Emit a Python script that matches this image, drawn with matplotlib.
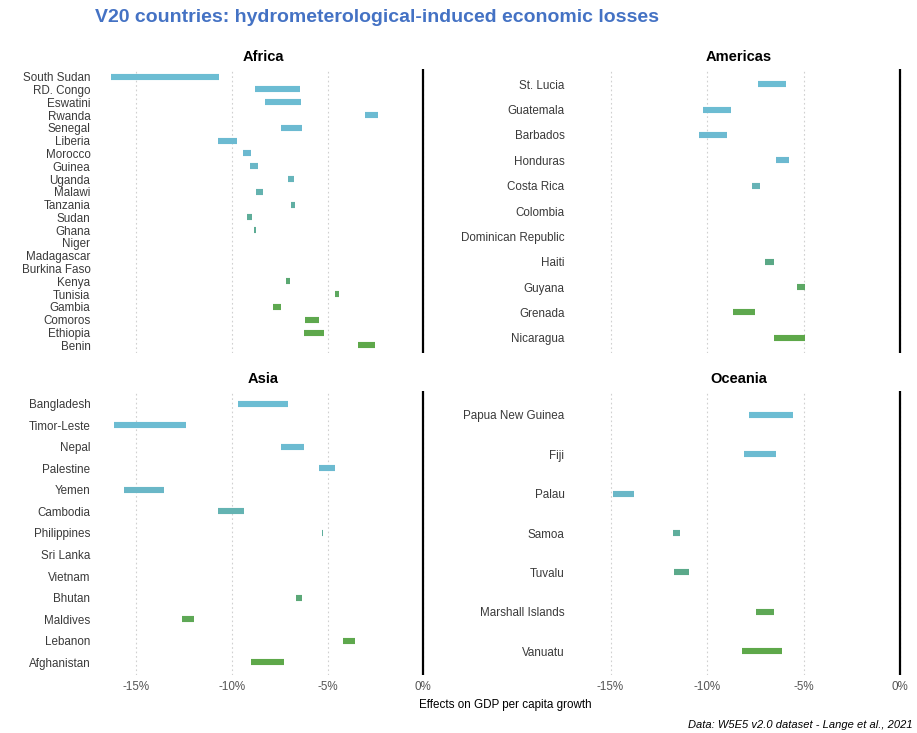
import matplotlib.pyplot as plt
import numpy as np
from matplotlib.colors import LinearSegmentedColormap

nan = np.nan

# low / high bound of effect on GDP per capita growth (%)
africa = ['South Sudan', 'RD. Congo', 'Eswatini', 'Rwanda', 'Senegal', 'Liberia',
          'Morocco', 'Guinea', 'Uganda', 'Malawi', 'Tanzania', 'Sudan', 'Ghana',
          'Niger', 'Madagascar', 'Burkina Faso', 'Kenya', 'Tunisia', 'Gambia',
          'Comoros', 'Ethiopia', 'Benin']
africa_lo = [-16.3, -8.77, -8.25, -3.03, -7.43, -10.75, -9.41, -9.05, -7.06, -8.72,
             -6.92, -9.19, -8.84, nan, nan, nan, -7.18, -4.59, -7.86, -6.16, -6.21, -3.41]
africa_hi = [-10.7, -6.43, -6.40, -2.35, -6.33, -9.71, -8.98, -8.64, -6.78, -8.38,
             -6.71, -8.96, -8.72, nan, nan, nan, -6.94, -4.38, -7.44, -5.46, -5.20, -2.51]

americas = ['St. Lucia', 'Guatemala', 'Barbados', 'Honduras', 'Costa Rica', 'Colombia',
            'Dominican Republic', 'Haiti', 'Guyana', 'Grenada', 'Nicaragua']
americas_lo = [-7.39, -10.19, -10.40, -6.44, -7.69, nan, nan, -6.99, -5.35, -8.67, -6.55]
americas_hi = [-5.94, -8.74, -8.98, -5.75, -7.27, nan, nan, -6.55, -4.91, -7.50, -4.91]

asia = ['Bangladesh', 'Timor-Leste', 'Nepal', 'Palestine', 'Yemen', 'Cambodia',
        'Philippines', 'Sri Lanka', 'Vietnam', 'Bhutan', 'Maldives', 'Lebanon', 'Afghanistan']
asia_lo = [-9.67, -16.16, -7.46, -5.43, -15.62, -10.75, -5.29, nan, nan, -6.63, -12.61, -4.21, -8.99]
asia_hi = [-7.08, -12.42, -6.21, -4.59, -13.53, -9.37, -5.22, nan, nan, -6.33, -11.98, -3.56, -7.29]

oceania = ['Papua New Guinea', 'Fiji', 'Palau', 'Samoa', 'Tuvalu', 'Marshall Islands', 'Vanuatu']
oceania_lo = [-7.81, -8.08, -14.85, -11.78, -11.71, -7.46, -8.20]
oceania_hi = [-5.56, -6.46, -13.80, -11.38, -10.93, -6.56, -6.13]

xticks = [-15, -10, -5, 0]
xlabels = ['-15%', '-10%', '-5%', '0%']

cmap = LinearSegmentedColormap.from_list(
    'bg', [(0, '#6cbdd3'), (0.3, '#6cb9d0'), (0.5, '#5fae9c'), (0.72, '#5aa884'),
           (0.85, '#5ea850'), (1, '#5ea84a')])

W, H = 917, 733
fig = plt.figure(figsize=(W / 100, H / 100), dpi=100)
plt.rcParams['font.family'] = ['Liberation Sans', 'DejaVu Sans']

xlim = (-17.1, 0.4)

def px_axes(x0, x1, y0, y1):
    return fig.add_axes([x0 / W, 1 - y1 / H, (x1 - x0) / W, (y1 - y0) / H])

panels = [
    ('Africa', africa, africa_lo, africa_hi, (96, 431, 69, 353), False),
    ('Americas', americas, americas_lo, americas_hi, (570, 908, 69, 353), False),
    ('Asia', asia, asia_lo, asia_hi, (96, 431, 391, 675), True),
    ('Oceania', oceania, oceania_lo, oceania_hi, (570, 908, 391, 675), True),
]

for title, names, lo, hi, box, bottom in panels:
    ax = px_axes(*box)
    n = len(names)
    y = np.arange(n)
    cols = [cmap(i / (n - 1)) for i in range(n)]
    for i in range(n):
        if not np.isnan(lo[i]):
            ax.hlines(y[i], lo[i], hi[i], color=cols[i], linewidth=4.4, capstyle='butt')
    ax.axvline(0, color='black', linewidth=1.6)
    ax.set_xlim(*xlim)
    ax.set_ylim(n - 1 + 0.6, -0.6)
    ax.set_yticks(y)
    ax.set_yticklabels(names, fontsize=8.4, color='#3a3a3a')
    ax.set_xticks(xticks)
    if bottom:
        ax.set_xticklabels(xlabels, fontsize=8.4, color='#555555')
    else:
        ax.set_xticklabels([])
    ax.tick_params(length=0, pad=4)
    ax.grid(axis='x', color='#d0d0d0', linestyle=(0, (1.5, 2.5)), linewidth=0.8)
    ax.set_axisbelow(True)
    for s in ax.spines.values():
        s.set_visible(False)
    ax.set_title(title, fontsize=10.5, fontweight='bold', pad=6)

fig.text(95 / W, 1 - 18 / H, 'V20 countries: hydrometerological-induced economic losses',
         fontsize=14, fontweight='bold', color='#4472c4', va='center', ha='left')
fig.text(505 / W, 1 - 705 / H, 'Effects on GDP per capita growth', fontsize=8.4,
         ha='center', va='center')
fig.text(913 / W, 1 - 725 / H, 'Data: W5E5 v2.0 dataset - Lange et al., 2021', fontsize=8,
         style='italic', ha='right', va='center')

fig.savefig('out.png', dpi=100)
